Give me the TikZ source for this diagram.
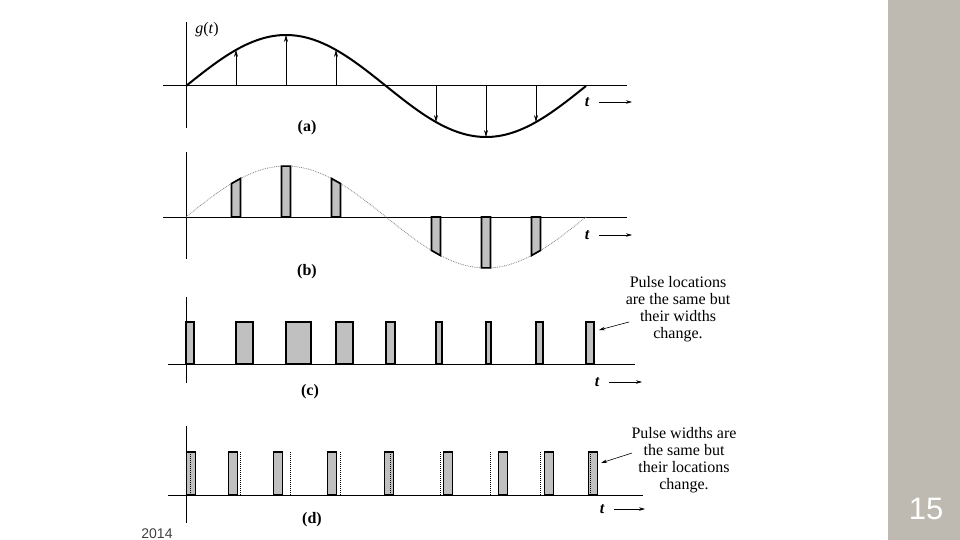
\documentclass[tikz,border=0pt]{standalone}
\usepackage{fontspec}
\setmainfont{Liberation Serif}
\newfontfamily\slidefont{Liberation Sans}
\usetikzlibrary{arrows.meta,positioning}

\definecolor{panelgray}{RGB}{190,186,177}
\definecolor{pulsegray}{RGB}{192,192,192}

\begin{document}
\begin{tikzpicture}[x=1pt, y=-1pt,
  axis/.style={line width=1pt},
  wave/.style={line width=2pt},
  guide/.style={densely dotted, line width=0.8pt, gray},
  slot/.style={densely dotted, line width=1pt},
  samp/.style={-{Stealth[length=7pt, width=4pt]}, line width=0.6pt},
  pulse/.style={draw, line width=1.7pt, fill=pulsegray},
  tarr/.style={-{Stealth[length=6pt, width=3.5pt]}, line width=0.6pt},
  lbl/.style={font=\fontsize{16}{18}\selectfont\bfseries},
  tlbl/.style={font=\fontsize{16}{18}\selectfont\bfseries\itshape},
  note/.style={align=center, font=\fontsize{16}{17}\selectfont},
  notearr/.style={-{Stealth[length=6pt, width=3.5pt]}, line width=0.6pt}]

  \useasboundingbox (0,0) rectangle (960,540);
  \fill[panelgray] (888,0) rectangle (960,540);
  \node[text=white, font=\slidefont\fontsize{31}{31}\selectfont] (pnum) at (926,509) {15};
  \node[text=darkgray, font=\slidefont\fontsize{14}{14}\selectfont, anchor=north] (year) at (157,525) {2014};

  % (a) the analog signal and its samples
  \draw[axis] (163,86) -- (627,86);
  \draw[axis] (186,22) -- (186,128);
  \draw[wave, domain=186:586, samples=120, variable=\x]
    plot (\x, {86-51*sin(0.9*(\x-186))});
  \foreach \k in {1,2,3,5,6,7}
    \draw[samp] (186+50*\k,86) -- (186+50*\k, {86-51*sin(45*\k)});
  \node[font=\fontsize{16}{18}\selectfont] (gt) at (207,30) {\textit{g}(\textit{t})};
  \node[lbl] (capa) at (307,128) {(a)};
  \node[tlbl] (ta) at (587,102) {t};
  \coordinate (taend) at (632,102);
  \draw[tarr] ([xshift=6pt]ta.east) -- (taend);

  % (b) pulses whose tops follow the signal
  \draw[axis] (163,217) -- (627,217);
  \draw[axis] (186,152) -- (186,259);
  \draw[guide, domain=186:586, samples=120, variable=\x]
    plot (\x, {217-51*sin(0.9*(\x-186))});
  \foreach \k in {1,2,3,5,6,7} {
    \pgfmathsetmacro\lx{186+50*\k-4.5}
    \pgfmathsetmacro\rx{186+50*\k+4.5}
    \draw[pulse] (\lx,217) -- (\lx,{217-51*sin(0.9*(\lx-186))})
      -- (\rx,{217-51*sin(0.9*(\rx-186))}) -- (\rx,217) -- cycle;
  }
  \node[lbl] (capb) at (307,272) {(b)};
  \node[tlbl] (tb) at (587,235) {t};
  \coordinate (tbend) at (632,235);
  \draw[tarr] ([xshift=6pt]tb.east) -- (tbend);

  % (c) same locations, widths change
  \draw[axis] (168,364) -- (635,364);
  \draw[axis] (186,297) -- (186,383);
  \foreach \k/\w in {0/8,1/17,2/25,3/17,4/9,5/6,6/5,7/7,8/8}
    \draw[pulse] (186+50*\k,364) rectangle ++(\w,-42);
  \node[lbl] (capc) at (310,392) {(c)};
  \node[tlbl] (tc) at (597,382) {t};
  \coordinate (tcend) at (642,382);
  \draw[tarr] ([xshift=6pt]tc.east) -- (tcend);
  \node[note] (notec) at (678,309) {Pulse locations\\are the same but\\their widths\\change.};
  \coordinate (notecfrom) at (629,322);
  \coordinate (c9) at (599,330);
  \draw[notearr] (notecfrom) -- (c9);

  % (d) same widths, locations change
  \draw[axis] (168,495) -- (643,495);
  \draw[axis] (186,426) -- (186,523);
  \foreach \k/\o in {0/1,1/-7,2/-12,3/-8,4/-1,5/8,6/13,7/9,8/3} {
    \draw[pulse] (190+50*\k+\o-4.5,495) rectangle ++(9,-43);
    \draw[slot] (190+50*\k,495) -- (190+50*\k,452);
  }
  \node[lbl] (capd) at (312,520) {(d)};
  \node[tlbl] (td) at (602,509) {t};
  \coordinate (tdend) at (645,509);
  \draw[tarr] ([xshift=6pt]td.east) -- (tdend);
  \node[note] (noted) at (684,460) {Pulse widths are\\the same but\\their locations\\change.};
  \coordinate (notedfrom) at (632,453);
  \coordinate (d9) at (601,463);
  \draw[notearr] (notedfrom) -- (d9);
\end{tikzpicture}
\end{document}
